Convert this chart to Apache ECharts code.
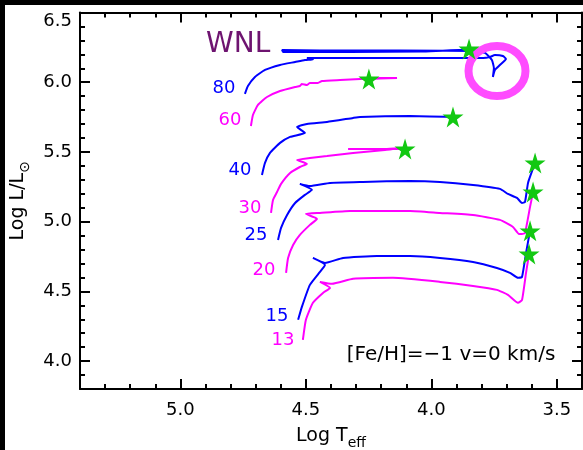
<!DOCTYPE html>
<html><head><meta charset="utf-8">
<script src="https://cdn.jsdelivr.net/npm/echarts@6/dist/echarts.min.js"></script>
<style>html,body{margin:0;padding:0;background:#fff}#c{width:583px;height:450px}</style>
</head><body><div id="c"></div>
<script>
// Evolutionary tracks: [log Teff, log L/Lsun]
const m80 = [[4.743,5.916],[4.731,5.973],[4.703,6.038],[4.663,6.088],[4.603,6.124],[4.543,6.145],[4.504,6.159],[4.472,6.163],[4.496,6.174],[4.444,6.174],[4.324,6.174],[4.125,6.174],[3.926,6.174],[3.794,6.174],[3.767,6.181],[3.747,6.195],[3.715,6.188],[3.703,6.167],[3.727,6.124],[3.747,6.088],[3.755,6.038],[3.751,6.102],[3.759,6.159],[3.786,6.210],[3.826,6.224],[4.125,6.228],[4.444,6.228],[4.595,6.231],[4.591,6.217],[4.324,6.217],[4.045,6.220],[3.850,6.235]];
const m60 = [[4.719,5.686],[4.711,5.765],[4.691,5.837],[4.655,5.894],[4.603,5.937],[4.543,5.966],[4.524,5.973],[4.516,5.987],[4.496,5.980],[4.484,5.995],[4.452,5.995],[4.436,6.009],[4.364,6.016],[4.284,6.023],[4.205,6.030],[4.137,6.030],[4.205,6.026],[4.249,6.023]];
const m40 = [[4.675,5.335],[4.663,5.421],[4.643,5.493],[4.603,5.565],[4.563,5.608],[4.504,5.636],[4.535,5.679],[4.496,5.701],[4.416,5.715],[4.312,5.744],[4.284,5.751],[4.085,5.758],[3.914,5.751]];
const m30 = [[4.639,5.063],[4.631,5.156],[4.615,5.213],[4.599,5.271],[4.563,5.349],[4.524,5.392],[4.496,5.414],[4.535,5.443],[4.484,5.457],[4.416,5.471],[4.312,5.493],[4.185,5.514],[4.125,5.529],[4.185,5.522],[4.332,5.522],[4.245,5.522],[4.105,5.522]];
const m25 = [[4.611,4.869],[4.599,4.955],[4.575,5.048],[4.543,5.134],[4.504,5.192],[4.476,5.228],[4.524,5.271],[4.484,5.256],[4.404,5.278],[4.273,5.285],[4.085,5.292],[3.966,5.285],[3.834,5.263],[3.727,5.235],[3.695,5.199],[3.659,5.170],[3.639,5.134],[3.627,5.142],[3.615,5.278],[3.587,5.421]];
const m20 = [[4.579,4.633],[4.571,4.740],[4.551,4.833],[4.524,4.905],[4.484,4.977],[4.456,5.020],[4.500,5.056],[4.444,5.063],[4.324,5.077],[4.085,5.077],[3.966,5.063],[3.834,5.048],[3.727,5.013],[3.675,4.962],[3.651,4.912],[3.639,4.912],[3.627,4.919],[3.607,5.106],[3.595,5.213]];
const m15 = [[4.531,4.296],[4.516,4.389],[4.484,4.547],[4.444,4.640],[4.424,4.690],[4.472,4.740],[4.424,4.704],[4.352,4.740],[4.217,4.754],[4.085,4.754],[3.966,4.740],[3.834,4.711],[3.739,4.668],[3.687,4.633],[3.655,4.597],[3.639,4.604],[3.623,4.776],[3.607,4.934]];
const m13 = [[4.512,4.152],[4.500,4.296],[4.472,4.418],[4.432,4.489],[4.404,4.525],[4.444,4.568],[4.396,4.554],[4.312,4.590],[4.153,4.597],[3.966,4.568],[3.834,4.539],[3.739,4.511],[3.695,4.475],[3.655,4.418],[3.639,4.439],[3.623,4.633],[3.611,4.769]];
const endStars = [[3.850,6.238],[4.249,6.023],[3.914,5.751],[4.105,5.522],[3.587,5.421],[3.595,5.213],[3.607,4.934],[3.611,4.769]];

const xMajor = [3.5,4.0,4.5,5.0];
const yMajor = [4.0,4.5,5.0,5.5,6.0,6.5];
const massLabels = ['80','60','40','30','25','20','15','13'];

const BLUE = '#0000ff', MAG = '#ff00ff';
const FONT = 'DejaVu Sans';
const STAR = 'path://M50,0 L61,35 L98,35 L68,57 L79,91 L50,70 L21,91 L32,57 L2,35 L39,35 Z';

function track(d, c){ return {type:'line', data:d, xAxisIndex:0, yAxisIndex:0, showSymbol:false, symbol:'none', smooth:0.15, lineStyle:{color:c, width:2}, z:2, silent:true, animation:false}; }

const fmt = v => v.toFixed(1);
const nameRich = {a:{fontSize:19, fontFamily:FONT, color:'#000', padding:[0,0,7,0]}, s:{fontSize:14, fontFamily:FONT, color:'#000', padding:[7,0,0,0]}};
function majorX(pos, labels, name){
  return {type:'value', gridIndex:0, position:pos, min:3.4, max:5.4, inverse:true,
    axisLine:{show:true, onZero:false, lineStyle:{color:'#000', width:2}},
    axisTick:{show:true, inside:true, length:10, customValues:xMajor, lineStyle:{color:'#000', width:2}},
    axisLabel:{show:labels, customValues:xMajor, formatter:fmt, color:'#000', fontSize:18, fontFamily:FONT, margin:12},
    splitLine:{show:false}, name:name||'', nameLocation:'middle', nameGap:38,
    nameTextStyle:{color:'#000', fontFamily:FONT, rich:nameRich}};
}
function majorY(pos, labels, name){
  return {type:'value', gridIndex:0, position:pos, min:3.8, max:6.5,
    axisLine:{show:true, onZero:false, lineStyle:{color:'#000', width:2}},
    axisTick:{show:true, inside:true, length:10, customValues:yMajor, lineStyle:{color:'#000', width:2}},
    axisLabel:{show:labels, customValues:yMajor, formatter:fmt, color:'#000', fontSize:18, fontFamily:FONT, margin:8, verticalAlignMaxLabel:'top'},
    splitLine:{show:false}, name:name||'', nameLocation:'middle', nameGap:43, nameRotate:90,
    nameTextStyle:{color:'#000', fontFamily:FONT, rich:nameRich}};
}
function minorX(pos){
  return {type:'value', gridIndex:1, position:pos, min:3.4, max:5.4, interval:0.1, inverse:true,
    axisLine:{show:false}, axisLabel:{show:false}, splitLine:{show:false},
    axisTick:{show:true, inside:true, length:5, lineStyle:{color:'#000', width:2}}};
}
function minorY(pos){
  return {type:'value', gridIndex:1, position:pos, min:3.8, max:6.5, interval:0.1,
    axisLine:{show:false}, axisLabel:{show:false}, splitLine:{show:false},
    axisTick:{show:true, inside:true, length:5, lineStyle:{color:'#000', width:2}}};
}

const labelPos = [[224,88,BLUE],[230,120,MAG],[240,170,BLUE],[250,208,MAG],[256,235,BLUE],[264,270,MAG],[277,316,BLUE],[283,340,MAG]];
const graphics = [
  {type:'rect', shape:{x:0,y:0,width:583,height:5}, style:{fill:'#000'}, z:10},
  {type:'rect', shape:{x:0,y:0,width:5,height:450}, style:{fill:'#000'}, z:10},
  {type:'ellipse', shape:{cx:497, cy:71, rx:28.5, ry:25}, style:{fill:'none', stroke:'#ff4cff', lineWidth:8}, z:3},
  {type:'text', x:206, y:45, style:{text:'WNL', fill:'#6e1470', font:'28px "DejaVu Sans"', textVerticalAlign:'middle'}, z:5},
  {type:'text', x:451, y:355, style:{text:'[Fe/H]=\u22121 v=0 km/s', fill:'#000', font:'20px "DejaVu Sans"', textAlign:'center', textVerticalAlign:'middle'}, z:5}
];
massLabels.forEach((t,i)=>{
  const p = labelPos[i];
  graphics.push({type:'text', x:p[0], y:p[1], style:{text:t, fill:p[2], font:'18px "DejaVu Sans"', textAlign:'center', textVerticalAlign:'middle'}, z:5});
});

const gridBox = {left:80, top:12.5, right:1, bottom:61, outerBoundsMode:'none', containLabel:false};
const chart = echarts.init(document.getElementById('c'), null, {renderer:'canvas'});
chart.setOption({
  animation:false,
  backgroundColor:'#fff',
  grid:[Object.assign({}, gridBox), Object.assign({}, gridBox)],
  xAxis:[majorX('bottom', true, '{a|Log T}{s|eff}'), majorX('top', false), minorX('bottom'), minorX('top')],
  yAxis:[majorY('left', true, '{a|Log L/L}{s|\u2299}'), majorY('right', false), minorY('left'), minorY('right')],
  series:[
    track(m80, BLUE), track(m60, MAG), track(m40, BLUE), track(m30, MAG),
    track(m25, BLUE), track(m20, MAG), track(m15, BLUE), track(m13, MAG),
    {type:'scatter', data:endStars, xAxisIndex:0, yAxisIndex:0, symbol:STAR, symbolSize:21,
     itemStyle:{color:'#12c812', opacity:1}, z:6, silent:true}
  ],
  graphic:graphics
});
</script></body></html>
